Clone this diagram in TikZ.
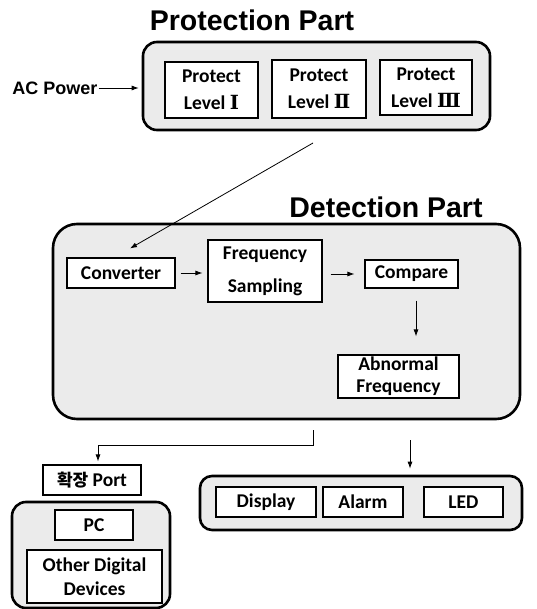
\documentclass[tikz,border=0pt]{standalone}
\usepackage{fontspec}
\setmainfont{Carlito}
\newfontfamily\titlefont{Liberation Sans}
\newfontfamily\cjkfont{Noto Sans CJK KR}
\newfontfamily\numfont{DejaVu Serif}
\usetikzlibrary{arrows.meta}

\tikzset{
  group/.style={draw, line width=2.6pt, rounded corners=14pt, fill=black!8},
  unit/.style={draw, line width=1.1pt, fill=white, align=center, inner sep=0pt,
    font=\bfseries\fontsize{19.5}{27}\selectfont},
  arr/.style={-{Latex[length=7pt,width=5pt]}, line width=0.8pt},
  heading/.style={font=\titlefont\bfseries\fontsize{28.5}{30}\selectfont}
}

\begin{document}
\begin{tikzpicture}[x=1pt, y=-1pt]
\useasboundingbox (0,0) rectangle (536,609);

% protection part
\node[heading] (pptitle) at (252,20) {Protection Part};
\node[group, minimum width=347, minimum height=88] (pp) at (316.5,86) {};
\node[unit, minimum width=93, minimum height=56] (lvl1) at (211.5,90) {Protect\\Level {\numfont Ⅰ}};
\node[unit, minimum width=94, minimum height=58] (lvl2) at (319,89) {Protect\\Level {\numfont Ⅱ}};
\node[unit, minimum width=92, minimum height=55] (lvl3) at (426,87.5) {Protect\\Level {\numfont Ⅲ}};
\node[font=\titlefont\bfseries\fontsize{18}{20}\selectfont, inner sep=1pt] (ac) at (55,88) {AC Power};
\draw[arr, shorten >=3pt] (ac.east) -- (ac.east -| pp.west);

% detection part
\node[heading] (dptitle) at (386,207) {Detection Part};
\node[group, rounded corners=24pt, minimum width=467, minimum height=195] (dp) at (286.5,321.5) {};
\node[unit, minimum width=108, minimum height=30] (conv) at (121,273) {Converter};
\node[unit, minimum width=114, minimum height=62, font=\bfseries\fontsize{19.5}{33}\selectfont] (fsamp) at (265,271) {Frequency\\Sampling};
\node[unit, minimum width=93, minimum height=28] (comp) at (411.5,274) {Compare};
\node[unit, minimum width=121, minimum height=43, font=\bfseries\fontsize{19.5}{22}\selectfont] (abn) at (398.5,376.5) {Abnormal\\Frequency};

\coordinate (ppout) at (313,143);
\draw[arr] (ppout) -- ([xshift=9pt, yshift=9pt]conv.north);
\draw[arr, shorten <=5pt, shorten >=5pt] (conv.east) -- (conv.east -| fsamp.west);
\draw[arr, shorten <=8pt, shorten >=10pt] (comp.west -| fsamp.east) -- (comp.west);
\draw[arr, shorten <=12pt, shorten >=18pt] ([xshift=4.5pt]comp.south) -- ([xshift=4.5pt]comp.south |- abn.north);

% port and devices
\node[unit, minimum width=98, minimum height=30] (port) at (92,480) {{\cjkfont\fontsize{17}{20}\selectfont 확장} Port};
\node[group, minimum width=158, minimum height=106] (devgrp) at (91,555) {};
\node[unit, minimum width=78, minimum height=30] (pc) at (94,525) {PC};
\node[unit, minimum width=135, minimum height=53, font=\bfseries\fontsize{19.5}{24}\selectfont] (odd) at (94.5,576.5) {Other Digital\\Devices};

\coordinate (dpout) at (313,430);
\coordinate (bend) at (313,445);
\draw[arr, shorten >=3pt] (dpout) -- (bend) -| ([xshift=6pt]port.north);

% outputs
\node[group, rounded corners=12pt, minimum width=322, minimum height=54] (outgrp) at (361,503) {};
\node[unit, minimum width=100, minimum height=30] (disp) at (266,502) {Display};
\node[unit, minimum width=80, minimum height=30] (alarm) at (363,502) {Alarm};
\node[unit, minimum width=79, minimum height=30] (led) at (463.5,502) {LED};

\coordinate (dpout2) at (410,440);
\draw[arr, shorten >=6pt] (dpout2) -- (dpout2 |- outgrp.north);
\end{tikzpicture}
\end{document}
